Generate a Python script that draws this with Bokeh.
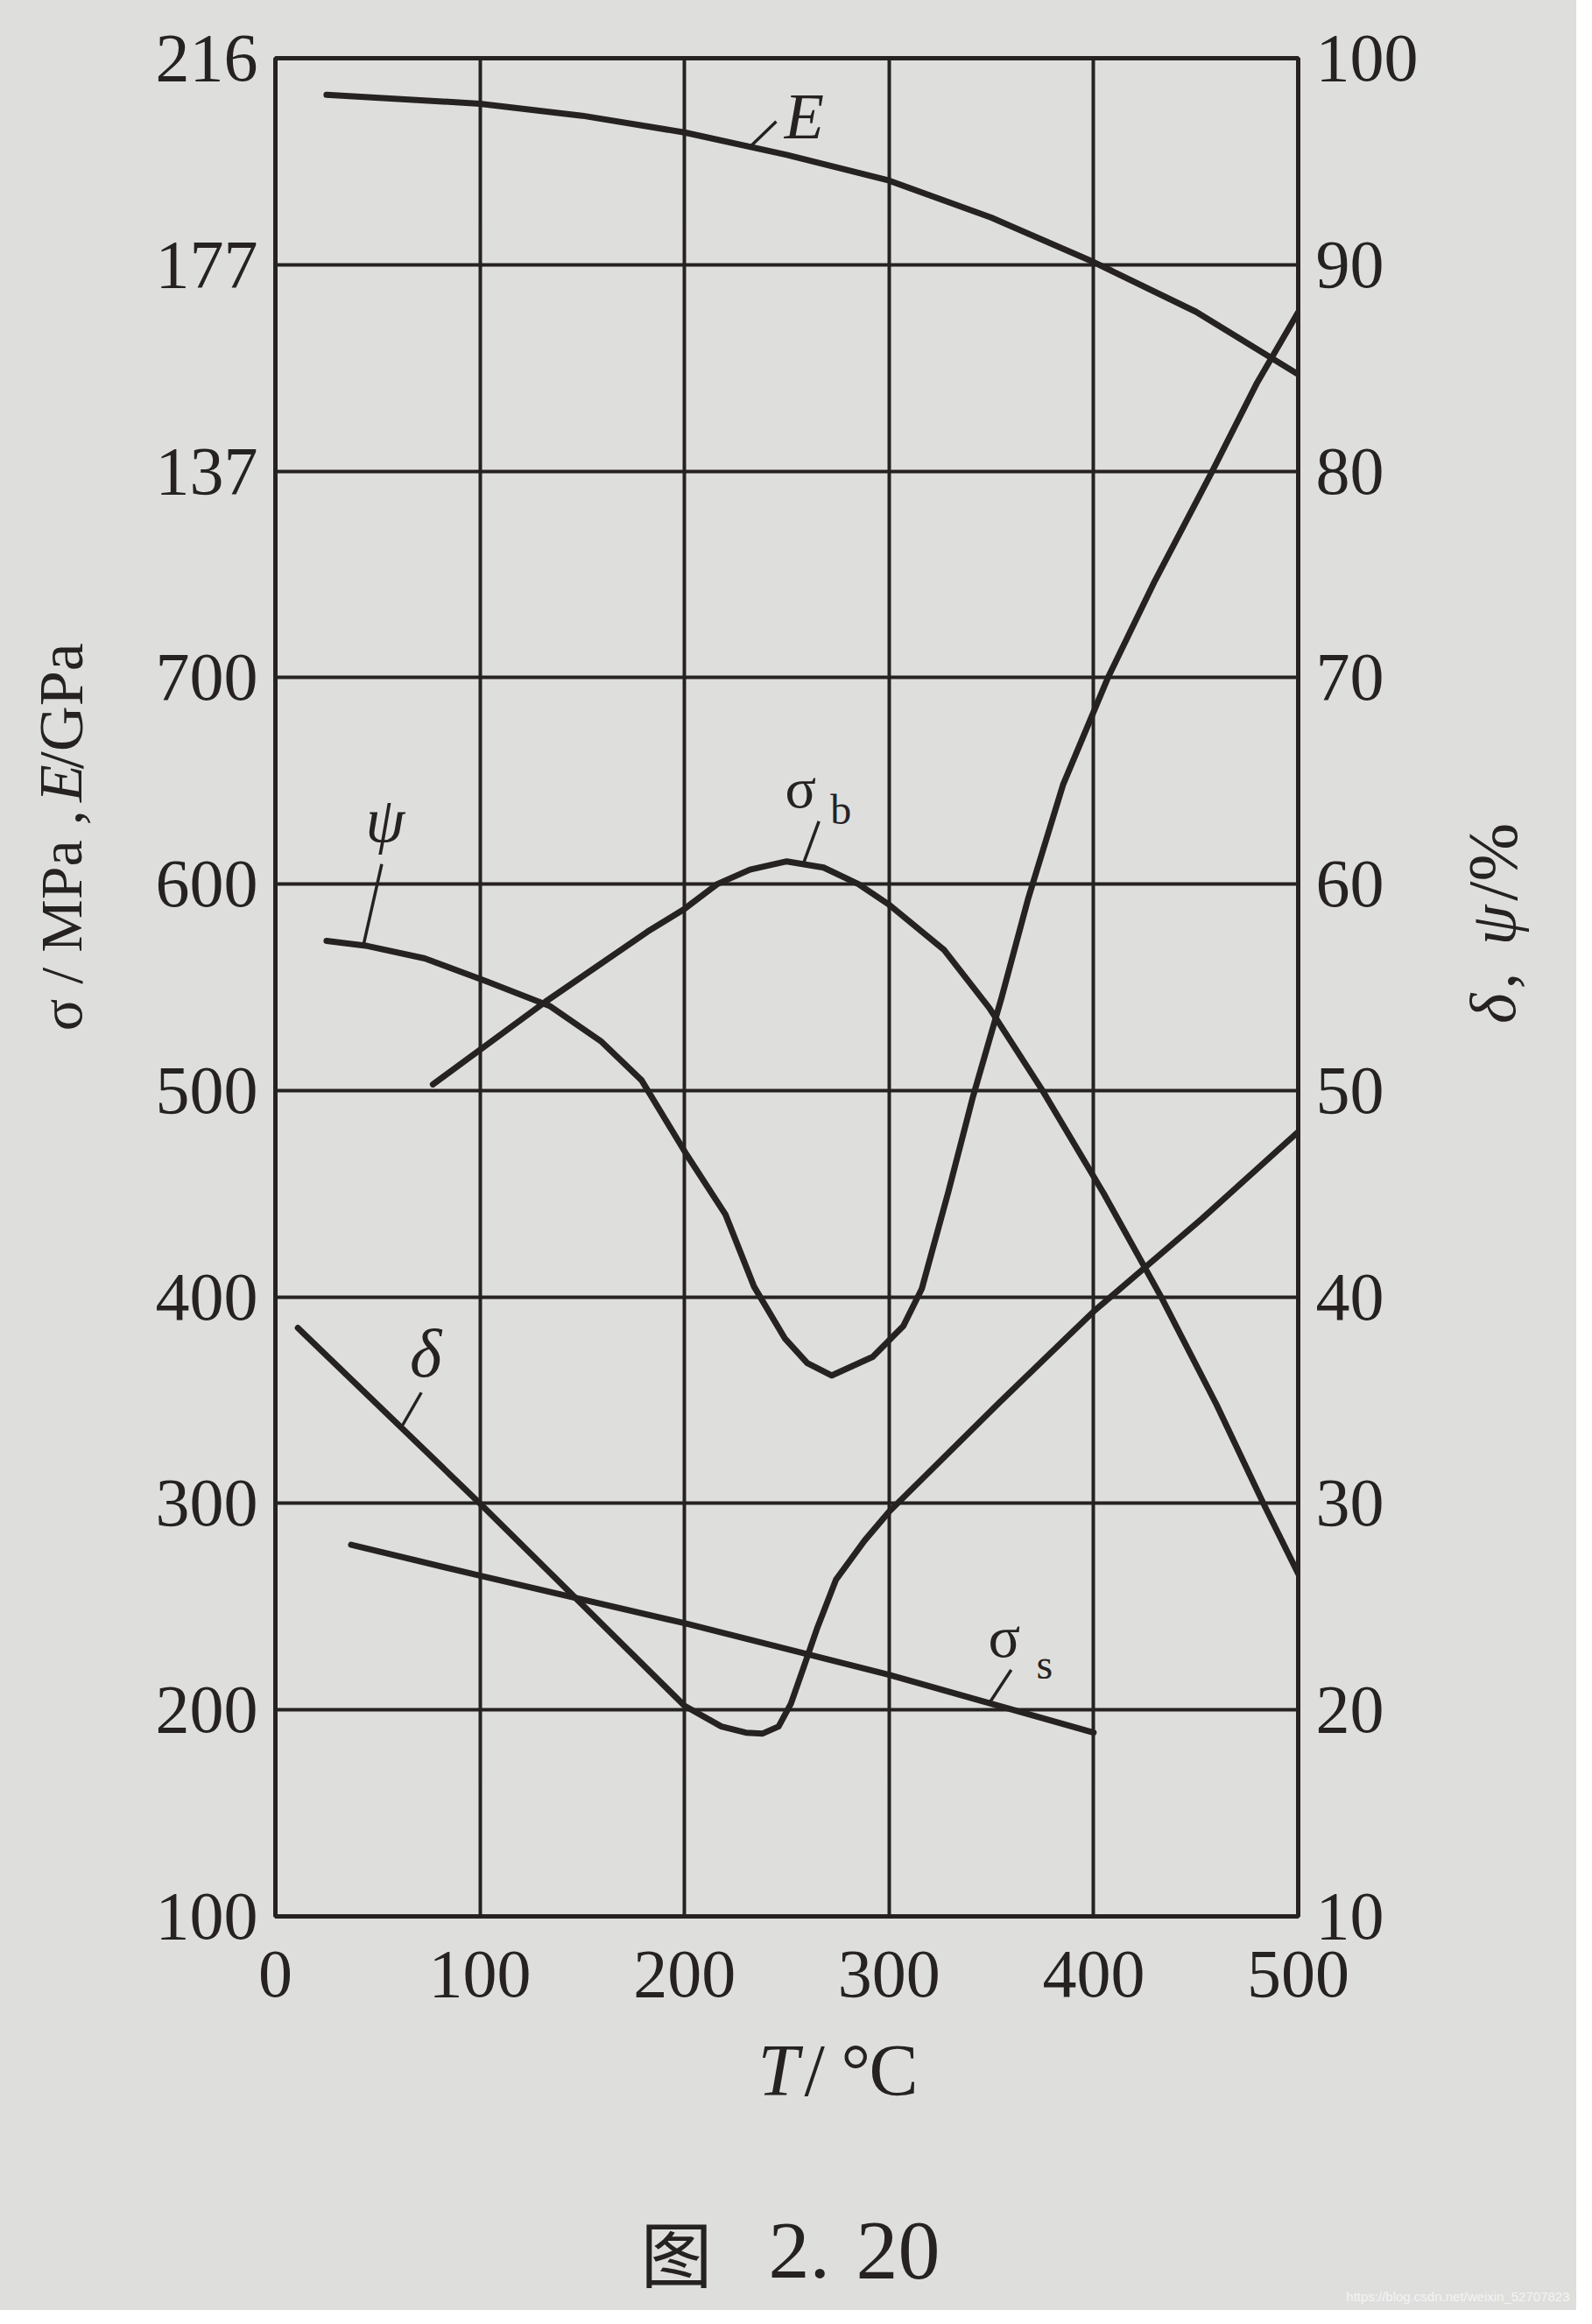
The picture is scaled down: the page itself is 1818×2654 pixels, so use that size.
import numpy as np
from bokeh.plotting import figure
from bokeh.layouts import row, column
from bokeh.models import Range1d, LinearAxis, FixedTicker, Label
from bokeh.embed import file_html
from bokeh.resources import INLINE

# ---------------- data ----------------
x_ticks = [0, 100, 200, 300, 400, 500]
pct_ticks = [10, 20, 30, 40, 50, 60, 70, 80, 90, 100]          # right axis  delta, psi / %
sigma_ticks = [100, 200, 300, 400, 500, 600, 700]               # left axis  sigma / MPa
E_ticks = [137, 177, 216]                                        # left axis  E / GPa (upper part)

T_E = [25, 100, 150, 200, 250, 300, 350, 400, 450, 500]
E_GPa = [209, 207.3, 205, 201.8, 197.5, 192.6, 185.5, 177, 167.5, 155.5]

T_sb = [77, 132, 182, 200, 216, 232, 250, 268, 285, 300, 327, 349, 375, 405, 433, 460, 483, 500]
sigma_b = [503, 543, 577, 588, 600, 607, 611, 608, 600, 590, 568, 540, 500, 450, 400, 348, 300, 266]

T_ss = [37, 100, 200, 300, 400]
sigma_s = [280, 265, 242, 217, 189]

T_psi = [25, 45, 73, 103, 134, 159, 179, 201, 220, 234, 249, 260, 272, 292, 307, 316,
         329, 341, 355, 368, 385, 407, 430, 458, 480, 500]
psi = [57.25, 57.0, 56.4, 55.3, 54.1, 52.4, 50.5, 46.9, 44.0, 40.5, 38.0, 36.8, 36.2, 37.1, 38.6, 40.4,
       45.1, 49.7, 54.5, 59.3, 64.8, 70.0, 74.7, 80.0, 84.3, 87.7]

T_delta = [11, 100, 200, 218, 230, 238, 246, 252, 258, 265, 274, 288, 300, 354, 400, 453, 500]
delta = [38.5, 30, 20.2, 19.2, 18.9, 18.85, 19.2, 20.3, 22.0, 24.0, 26.3, 28.2, 29.6, 34.9, 39.3, 43.8, 48.0]

# ---------------- layout / style ----------------
PAGE = 8
WL = 130                      # left title strip
BL, FW, BR = 184, 1168, 160   # main figure: left border, frame width, right border
WR = 158                      # right title strip
FT, FH, BB = 66, 2122, 110    # main figure: top border, frame height, bottom border
HM = FT + FH + BB
HB = 340                      # bottom strip (axis title, caption)
WM = BL + FW + BR
WT = WL + WM + WR

BG = "#dedfdd"
INK = "#262222"
SERIF = "Liberation Serif"
CJK = "Noto Sans CJK SC"

E_hi = E_ticks[-1]
E_lo = E_ticks[0] - 7 * (E_ticks[-1] - E_ticks[0]) / 2.0   # so 137 sits on the 80 % line

p = figure(width=WM, height=HM, x_range=Range1d(0, 500), y_range=Range1d(10, 100),
           output_backend="svg", toolbar_location=None, title=None,
           x_axis_location="below", y_axis_location=None,
           min_border_left=BL, min_border_right=BR,
           min_border_top=FT, min_border_bottom=BB,
           background_fill_color=BG, border_fill_color=BG,
           outline_line_color=INK, outline_line_width=5,
           styles={"background-color": BG})
p.extra_y_ranges = {"sigma": Range1d(100, 1000), "E": Range1d(E_lo, E_hi)}

# grids
p.xgrid.ticker = FixedTicker(ticks=x_ticks)
p.xgrid.grid_line_color = INK
p.xgrid.grid_line_width = 4
p.ygrid.ticker = FixedTicker(ticks=pct_ticks)
p.ygrid.grid_line_color = INK
p.ygrid.grid_line_width = 4


def style_axis(ax, standoff):
    ax.axis_line_color = None
    ax.major_tick_line_color = None
    ax.minor_tick_line_color = None
    ax.major_tick_out = 0
    ax.major_tick_in = 0
    ax.major_label_text_font = SERIF
    ax.major_label_text_font_size = "78px"
    ax.major_label_text_color = INK
    ax.major_label_standoff = standoff


xa = p.xaxis[0]
xa.ticker = FixedTicker(ticks=x_ticks)
style_axis(xa, 40)

# left axis on the sigma scale; upper three ticks carry E values
left_vals = sigma_ticks + [800, 900, 1000]
left_axis = LinearAxis(y_range_name="sigma", ticker=FixedTicker(ticks=left_vals))
left_axis.major_label_overrides = {v: str(e) for v, e in zip([800, 900, 1000], E_ticks)}
style_axis(left_axis, 20)
p.add_layout(left_axis, "left")

right_axis = LinearAxis(ticker=FixedTicker(ticks=pct_ticks))
style_axis(right_axis, 20)
p.add_layout(right_axis, "right")

# curves
LW = 7
kw = dict(line_color=INK, line_width=LW, line_join="round", line_cap="round")
p.line(T_E, E_GPa, y_range_name="E", **kw)
p.line(T_sb, sigma_b, y_range_name="sigma", **kw)
p.line(T_ss, sigma_s, y_range_name="sigma", **kw)
p.line(T_psi, psi, **kw)
p.line(T_delta, delta, **kw)

# ---------------- curve labels with leader lines ----------------
PPT = FW / 500.0
PPU = {"default": FH / 90.0, "sigma": FH / 900.0, "E": FH / (E_hi - E_lo)}


def add_text(fig, x, y, s, size, style="normal", font=SERIF, align="center", base="middle",
             angle=0.0, color=INK, xo=0, yo=0, yname="default"):
    fig.add_layout(Label(x=x, y=y, text=s, text_font=font, text_font_size=f"{size}px",
                         text_font_style=style, text_color=color, text_align=align,
                         text_baseline=base, angle=angle, x_offset=xo, y_offset=yo,
                         y_range_name=yname))


def curve_label(Tarr, Yarr, t0, lead, parts, yname="default"):
    y0 = float(np.interp(t0, Tarr, Yarr))
    x1 = t0 + lead[0] / PPT
    y1 = y0 - lead[1] / PPU[yname]
    p.segment(x0=[t0], y0=[y0], x1=[x1], y1=[y1], y_range_name=yname,
              line_color=INK, line_width=3.5)
    for s, (ox, oy), size, style in parts:
        add_text(p, t0, y0, s, size, style=style, xo=ox, yo=-oy, yname=yname)


curve_label(T_E, E_GPa, 232, (30, -29), [("E", (62, -35), 74, "italic")], yname="E")
curve_label(T_sb, sigma_b, 258, (18, -49), [("σ", (-3, -87), 66, "normal"),
                                             ("b", (43, -62), 48, "normal")], yname="sigma")
curve_label(T_ss, sigma_s, 349, (25, -38), [("σ", (17, -76), 68, "normal"),
                                            ("s", (63, -44), 48, "normal")], yname="sigma")
curve_label(T_delta, delta, 61.5, (23, -40), [("δ", (28, -85), 78, "italic")])
curve_label(T_psi, psi, 43, (21, -93), [("ψ", (25, -143), 72, "italic")])


# ---------------- text strips (titles, caption) ----------------
def strip(w, h):
    f = figure(width=w, height=h, x_range=Range1d(0, w), y_range=Range1d(0, h),
               output_backend="svg", toolbar_location=None, title=None,
               x_axis_location=None, y_axis_location=None,
               min_border=0, min_border_left=0, min_border_right=0,
               min_border_top=0, min_border_bottom=0,
               background_fill_color=BG, border_fill_color=BG, outline_line_color=None,
               styles={"background-color": BG})
    f.grid.visible = False
    return f


ROT = np.pi / 2


def vtext(fig, x, py_start, s, size, style="normal"):
    # upward-reading text whose first glyph starts at page y = py_start
    add_text(fig, x, HM - (py_start + 0.5 * size - PAGE), s, size, style=style,
             align="left", angle=ROT)


# left strip: "σ / MPa , E/GPa"   (page x0 = 8, page y0 = 8)
L = strip(WL, HM)
lx = 77 - PAGE
vtext(L, lx, 1177, "σ / MPa ,", 68)
vtext(L, lx, 893, "E", 70, "italic")
vtext(L, lx, 851, "/GPa", 72)

# right strip: "δ , ψ /%"   (page x0 = 8 + WL + WM)
R = strip(WR, HM)
rx = 1712 - (PAGE + WL + WM)
vtext(R, rx, 1165, "δ", 74, "italic")
vtext(R, rx, 1122, " , ", 74)
vtext(R, rx, 1068, "ψ", 74, "italic")
vtext(R, rx, 1010, "/%", 80)

# bottom strip: "T/°C", caption, watermark   (page y0 = 8 + HM)
B = strip(WT, HB)
by0 = PAGE + HM
def By(py): return HB - (py - by0)
def Bx(px): return px - PAGE
ty = By(2372)
add_text(B, Bx(873), ty, "T", 84, style="italic", align="left")
add_text(B, Bx(926), ty, "/", 84, align="left")
add_text(B, Bx(968), ty, "°", 84, align="left")
add_text(B, Bx(1000), ty, "C", 84, align="left")
cy = By(2578)
add_text(B, Bx(780), cy, "图", 82, font=CJK)
add_text(B, Bx(885), cy, "2.", 94, align="left")
add_text(B, Bx(985), cy, "20", 96, align="left")
add_text(B, Bx(1800), By(2630), "https://blog.csdn.net/weixin_52707823", 15,
         font="Liberation Sans", align="right", color="#f4f4f4")

layout = column(row(L, p, R, spacing=0, styles={"background-color": BG}), B,
                spacing=0, styles={"background-color": BG})

open("out.html", "w").write(file_html(layout, INLINE))
